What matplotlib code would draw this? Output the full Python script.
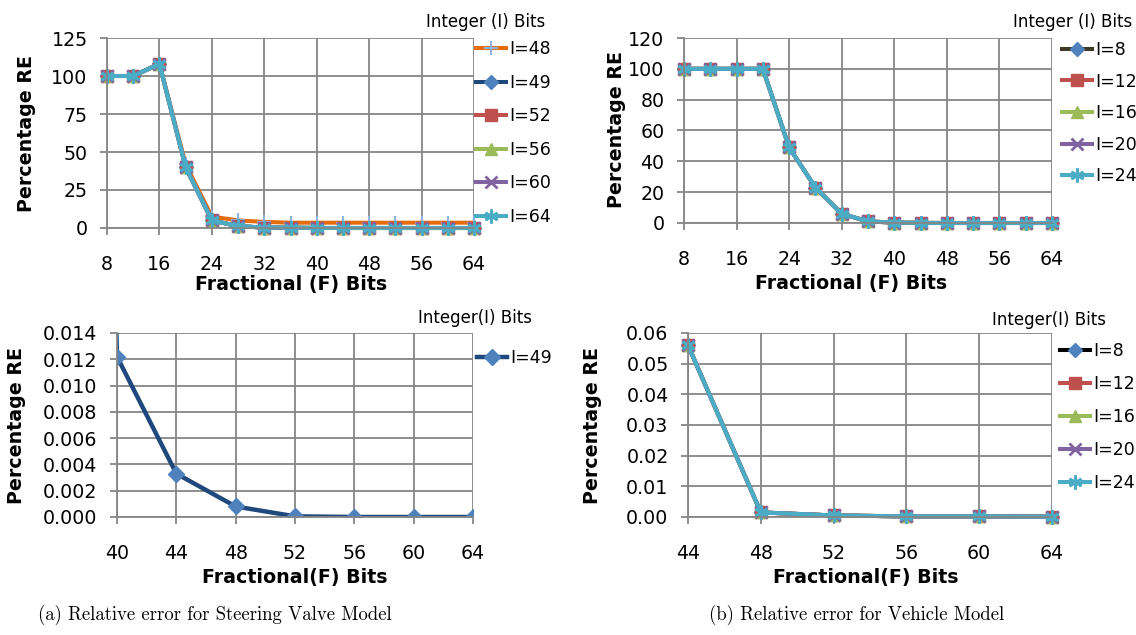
import matplotlib
matplotlib.use("Agg")
import matplotlib.pyplot as plt
import numpy as np

# ---------------- data ----------------
F_top = [8, 12, 16, 20, 24, 28, 32, 36, 40, 44, 48, 52, 56, 60, 64]

steer_I48 = [100, 100, 108, 42, 7.5, 5.0, 4.0, 3.5, 3.5, 3.5, 3.5, 3.5, 3.5, 3.5, 3.5]
steer_I49 = [100, 100, 108, 40, 5.0, 1.2, 0.3, 0.2, 0.0122, 0.0033, 0.0008, 0.00005, 0.0, 0.0, 0.0]
steer_I52 = [100, 100, 108, 40, 5.0, 1.2, 0.3, 0.2, 0.0122, 0.0033, 0.0008, 0.00005, 0.0, 0.0, 0.0]
steer_I56 = [100, 100, 108, 40, 5.0, 1.2, 0.3, 0.2, 0.0122, 0.0033, 0.0008, 0.00005, 0.0, 0.0, 0.0]
steer_I60 = [100, 100, 108, 40, 5.0, 1.2, 0.3, 0.2, 0.0122, 0.0033, 0.0008, 0.00005, 0.0, 0.0, 0.0]
steer_I64 = [100, 100, 108, 40, 5.0, 1.2, 0.3, 0.2, 0.0122, 0.0033, 0.0008, 0.00005, 0.0, 0.0, 0.0]
steer_labels = ["I=48", "I=49", "I=52", "I=56", "I=60", "I=64"]

veh_I8 = [100, 100, 100, 100, 49, 23, 6, 1.0, 0.3, 0.056, 0.0015, 0.0005, 0.0002, 0.0002, 0.0001]
veh_I12 = [100, 100, 100, 100, 49, 23, 6, 1.0, 0.3, 0.056, 0.0015, 0.0005, 0.0002, 0.0002, 0.0001]
veh_I16 = [100, 100, 100, 100, 49, 23, 6, 1.0, 0.3, 0.056, 0.0015, 0.0005, 0.0002, 0.0002, 0.0001]
veh_I20 = [100, 100, 100, 100, 49, 23, 6, 1.0, 0.3, 0.056, 0.0015, 0.0005, 0.0002, 0.0002, 0.0001]
veh_I24 = [100, 100, 100, 100, 49, 23, 6, 1.0, 0.3, 0.056, 0.0015, 0.0005, 0.0002, 0.0002, 0.0001]
veh_labels = ["I=8", "I=12", "I=16", "I=20", "I=24"]

# ---------------- style ----------------
W, H = 1136, 635
plt.rcParams['font.family'] = ['DejaVu Sans']
fig = plt.figure(figsize=(W / 100, H / 100), dpi=100)
fig.patch.set_facecolor('white')

GRID = '#868686'
TICK_FS = 13.7
LAB_FS = 13.7
LEG_FS = 12.5
TITLE_FS = 12

ASTER = (6, 2, 0)

steer_styles = [
    dict(color='#E46C0A', marker='+', mfc='#8EB4E3', mec='#8EB4E3', ms=10, mew=1.5),
    dict(color='#1F497D', marker='D', mfc='#4F81BD', mec='#4F81BD', ms=7),
    dict(color='#C0504D', marker='s', mfc='#C0504D', mec='#C0504D', ms=8),
    dict(color='#9BBB59', marker='^', mfc='#9BBB59', mec='#9BBB59', ms=8),
    dict(color='#8064A2', marker='x', mfc='#8064A2', mec='#8064A2', ms=8, mew=2),
    dict(color='#4BACC6', marker=ASTER, mfc='#4BACC6', mec='#4BACC6', ms=10, mew=2),
]
veh_styles_top = [
    dict(color='#3F3A28', marker='D', mfc='#4F81BD', mec='#4F81BD', ms=7),
    dict(color='#C0504D', marker='s', mfc='#C0504D', mec='#C0504D', ms=8),
    dict(color='#9BBB59', marker='^', mfc='#9BBB59', mec='#9BBB59', ms=8),
    dict(color='#8064A2', marker='x', mfc='#8064A2', mec='#8064A2', ms=8, mew=2),
    dict(color='#4BACC6', marker=ASTER, mfc='#4BACC6', mec='#4BACC6', ms=10, mew=2),
]
veh_styles_bot = [dict(s) for s in veh_styles_top]
veh_styles_bot[0]['color'] = '#000000'


def px_axes(x0, x1, y0, y1):
    return fig.add_axes([x0 / W, 1 - y1 / H, (x1 - x0) / W, (y1 - y0) / H])


def style_axes(ax, xlim, xticks, ylim, yticks, yfmt):
    ax.set_xlim(*xlim)
    ax.set_ylim(*ylim)
    ax.set_xticks(xticks)
    ax.set_yticks(yticks)
    ax.set_yticklabels([yfmt.format(v) for v in yticks])
    ax.grid(True, color=GRID, linewidth=1.3)
    ax.set_axisbelow(True)
    for s in ax.spines.values():
        s.set_visible(False)
    for side in ('left', 'bottom'):
        ax.spines[side].set_visible(True)
        ax.spines[side].set_color(GRID)
        ax.spines[side].set_linewidth(1.3)
    ax.tick_params(axis='x', direction='out', length=5, width=1.3, color=GRID,
                   pad=14.5, labelsize=TICK_FS)
    ax.tick_params(axis='y', direction='out', length=5, width=1.3, color=GRID,
                   pad=9, labelsize=TICK_FS)


def add_legend(lines, labels, x, ytop, spacing):
    return fig.legend(lines, labels, loc='upper left',
                      bbox_to_anchor=(x / W, 1 - ytop / H),
                      bbox_transform=fig.transFigure,
                      frameon=False, fontsize=LEG_FS, borderpad=0,
                      borderaxespad=0, handlelength=1.75, handletextpad=0.15,
                      labelspacing=spacing)


LW = 2.9

# ---------------- (a) top ----------------
ax1 = px_axes(107, 474, 38, 228)
steer_series = [steer_I48, steer_I49, steer_I52, steer_I56, steer_I60, steer_I64]
lines1 = []
for ys, st in zip(steer_series, steer_styles):
    l, = ax1.plot(F_top, ys, lw=LW, clip_on=False, **st)
    lines1.append(l)
style_axes(ax1, (8, 64), list(range(8, 65, 8)), (0, 125), [0, 25, 50, 75, 100, 125], "{:.0f}")
add_legend(lines1, steer_labels, 476, 40, 0.9)
fig.text(545 / W, 1 - 22 / H, "Integer (I) Bits", ha='right', va='center', fontsize=TITLE_FS)
fig.text(291 / W, 1 - 284 / H, "Fractional (F) Bits", ha='center', va='center',
         fontsize=LAB_FS, fontweight='bold')
fig.text(27 / W, 1 - 133 / H, "Percentage RE", ha='center', va='center',
         rotation=90, fontsize=LAB_FS, fontweight='bold')

# ---------------- (b) top ----------------
ax2 = px_axes(684, 1052, 38, 223)
veh_series = [veh_I8, veh_I12, veh_I16, veh_I20, veh_I24]
lines2 = []
for ys, st in zip(veh_series, veh_styles_top):
    l, = ax2.plot(F_top, ys, lw=LW, clip_on=False, **st)
    lines2.append(l)
style_axes(ax2, (8, 64), list(range(8, 65, 8)), (0, 120), list(range(0, 121, 20)), "{:.0f}")
add_legend(lines2, veh_labels, 1062, 41, 0.78)
fig.text(1132 / W, 1 - 22 / H, "Integer (I) Bits", ha='right', va='center', fontsize=TITLE_FS)
fig.text(851 / W, 1 - 283 / H, "Fractional (F) Bits", ha='center', va='center',
         fontsize=LAB_FS, fontweight='bold')
fig.text(617 / W, 1 - 130 / H, "Percentage RE", ha='center', va='center',
         rotation=90, fontsize=LAB_FS, fontweight='bold')

# ---------------- (a) bottom ----------------
ax3 = px_axes(117, 473, 333, 517)
F_arr = np.array(F_top)
mask_a = F_arr >= 36
l3, = ax3.plot(F_arr[mask_a], np.array(steer_I49)[mask_a], color='#1F497D', lw=3.2,
               marker='D', mfc='#4F81BD', mec='#4F81BD', ms=8, clip_on=True)
style_axes(ax3, (40, 64), list(range(40, 65, 4)), (0, 0.014),
           [0.000, 0.002, 0.004, 0.006, 0.008, 0.010, 0.012, 0.014], "{:.3f}")
add_legend([l3], ["I=49"], 477, 349, 0.9)
fig.text(532 / W, 1 - 318 / H, "Integer(I) Bits", ha='right', va='center', fontsize=TITLE_FS)
fig.text(295 / W, 1 - 578 / H, "Fractional(F) Bits", ha='center', va='center',
         fontsize=LAB_FS, fontweight='bold')
fig.text(17 / W, 1 - 425 / H, "Percentage RE", ha='center', va='center',
         rotation=90, fontsize=LAB_FS, fontweight='bold')

# ---------------- (b) bottom ----------------
ax4 = px_axes(688, 1052, 333, 517)
mask_b = F_arr >= 44
lines4 = []
for ys, st in zip(veh_series, veh_styles_bot):
    l, = ax4.plot(F_arr[mask_b], np.array(ys)[mask_b], lw=LW, clip_on=False, **st)
    lines4.append(l)
style_axes(ax4, (44, 64), list(range(44, 65, 4)), (0, 0.06),
           [0.00, 0.01, 0.02, 0.03, 0.04, 0.05, 0.06], "{:.2f}")
add_legend(lines4, veh_labels, 1060, 342, 0.86)
fig.text(1106 / W, 1 - 320 / H, "Integer(I) Bits", ha='right', va='center', fontsize=TITLE_FS)
fig.text(866 / W, 1 - 578 / H, "Fractional(F) Bits", ha='center', va='center',
         fontsize=LAB_FS, fontweight='bold')
fig.text(592 / W, 1 - 425 / H, "Percentage RE", ha='center', va='center',
         rotation=90, fontsize=LAB_FS, fontweight='bold')

# ---------------- captions ----------------
fig.text(215 / W, 1 - 615 / H, "(a) Relative error for Steering Valve Model",
         ha='center', va='center', fontsize=13.5, family=['cmr10', 'DejaVu Serif'])
fig.text(857 / W, 1 - 615 / H, "(b) Relative error for Vehicle Model",
         ha='center', va='center', fontsize=13.5, family=['cmr10', 'DejaVu Serif'])

fig.savefig("out.png", dpi=100, facecolor='white')
